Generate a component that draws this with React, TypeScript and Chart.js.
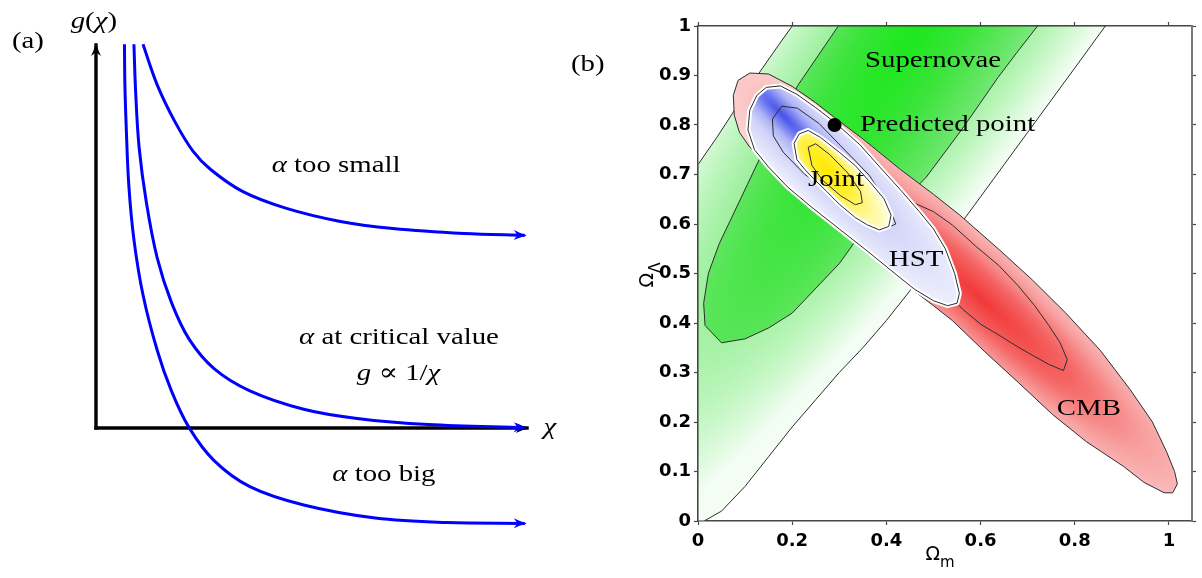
import React, { useEffect, useRef } from 'react';
import { Chart, registerables } from 'chart.js';

Chart.register(...registerables);

// ---------------- Panel (a): abstract chi / g units ----------------
const chiAxis = [0, 10];
const gAxis = [0, 10];
const smallChi = [1.09, 1.42, 1.83, 2.25, 2.66, 3.41, 4.4, 5.64, 6.89, 8.54, 9.95];
const smallG = [10.02, 8.96, 8.0, 7.23, 6.75, 6.17, 5.74, 5.4, 5.21, 5.08, 5.03];
const critChi = [0.88, 0.92, 1.0, 1.17, 1.42, 1.75, 2.16, 2.74, 3.57, 4.82, 6.06, 7.71, 9.95];
const critG = [10.02, 8.77, 7.33, 5.88, 4.44, 3.28, 2.32, 1.55, 0.97, 0.49, 0.25, 0.09, 0.01];
const bigChi = [0.66, 0.67, 0.7, 0.76, 0.88, 1.09, 1.42, 1.75, 2.16, 2.74, 3.57, 4.82, 6.48, 8.14, 9.95];
const bigG = [10.02, 9.0, 7.9, 6.36, 4.92, 3.48, 2.03, 0.97, 0.01, -0.85, -1.53, -2.01, -2.35, -2.47, -2.49];

// ---------------- Panel (b): Omega_m / Omega_Lambda ----------------
const xTickLabels = ['0', '0.2', '0.4', '0.6', '0.8', '1'];
const yTickLabels = ['0', '0.1', '0.2', '0.3', '0.4', '0.5', '0.6', '0.7', '0.8', '0.9', '1'];

const snOuter = [
  [0, 0.72], [0.04, 0.775], [0.081, 0.835], [0.134, 0.911], [0.17, 0.96], [0.2, 1.0],
  [0.865, 1.0], [0.8, 0.915], [0.75, 0.85], [0.7, 0.785], [0.65, 0.72], [0.6, 0.655],
  [0.55, 0.59], [0.5, 0.525], [0.45, 0.465], [0.4, 0.405], [0.35, 0.35], [0.3, 0.3],
  [0.25, 0.245], [0.2, 0.19], [0.15, 0.13], [0.1, 0.07], [0.05, 0.02], [0.013, 0],
  [0, 0], [0, 0.72],
];
const snInner = [
  [0.298, 1.0], [0.255, 0.94], [0.212, 0.88], [0.175, 0.815], [0.14, 0.75], [0.105, 0.68],
  [0.075, 0.62], [0.045, 0.56], [0.022, 0.5], [0.012, 0.44], [0.015, 0.395], [0.05, 0.36],
  [0.1, 0.368], [0.15, 0.39], [0.2, 0.42], [0.26, 0.48], [0.3, 0.52], [0.33, 0.56],
  [0.38, 0.6], [0.424, 0.636], [0.485, 0.695], [0.561, 0.792], [0.599, 0.844],
  [0.637, 0.896], [0.68, 0.95], [0.721, 1.0], [0.298, 1.0],
];
const cmbOuter = [
  [0.075, 0.86], [0.085, 0.89], [0.11, 0.905], [0.15, 0.903], [0.2, 0.878], [0.25, 0.845],
  [0.29, 0.815], [0.35, 0.772], [0.43, 0.71], [0.5, 0.66], [0.556, 0.618], [0.641, 0.547],
  [0.71, 0.487], [0.781, 0.42], [0.854, 0.345], [0.918, 0.265], [0.965, 0.2], [0.995, 0.14],
  [1.012, 0.1], [1.018, 0.075], [1.008, 0.057], [0.99, 0.057], [0.947, 0.078], [0.904, 0.11],
  [0.825, 0.16], [0.753, 0.215], [0.68, 0.28], [0.609, 0.342], [0.54, 0.405], [0.5, 0.435],
  [0.445, 0.475], [0.4, 0.51], [0.35, 0.55], [0.3, 0.59], [0.25, 0.635], [0.2, 0.675],
  [0.15, 0.72], [0.11, 0.755], [0.088, 0.785], [0.077, 0.82], [0.075, 0.86],
];
const cmbInner = [
  [0.448, 0.647], [0.5, 0.625], [0.54, 0.598], [0.59, 0.555], [0.639, 0.516], [0.68, 0.475],
  [0.715, 0.435], [0.745, 0.395], [0.769, 0.36], [0.784, 0.326], [0.776, 0.304], [0.746, 0.316],
  [0.71, 0.335], [0.677, 0.353], [0.64, 0.375], [0.601, 0.397], [0.563, 0.427], [0.53, 0.46],
  [0.5, 0.5], [0.47, 0.56], [0.45, 0.61], [0.448, 0.647],
];
const hstOuter = [
  [0.11, 0.83], [0.125, 0.86], [0.145, 0.876], [0.175, 0.879], [0.21, 0.862], [0.25, 0.835],
  [0.291, 0.805], [0.344, 0.76], [0.386, 0.715], [0.429, 0.67], [0.47, 0.625], [0.5, 0.59],
  [0.525, 0.55], [0.545, 0.5], [0.555, 0.46], [0.55, 0.44], [0.53, 0.435], [0.5, 0.445],
  [0.46, 0.468], [0.418, 0.5], [0.36, 0.545], [0.3, 0.59], [0.24, 0.635], [0.19, 0.675],
  [0.15, 0.715], [0.12, 0.75], [0.106, 0.79], [0.11, 0.83],
];
const hstInner = [
  [0.158, 0.812], [0.178, 0.838], [0.211, 0.834], [0.257, 0.803], [0.303, 0.758], [0.364, 0.698],
  [0.404, 0.638], [0.42, 0.6], [0.397, 0.59], [0.349, 0.618], [0.288, 0.662], [0.227, 0.7],
  [0.181, 0.745], [0.16, 0.778], [0.158, 0.812],
];
const jointOuter = [
  [0.204, 0.763], [0.215, 0.782], [0.234, 0.789], [0.26, 0.775], [0.3, 0.745], [0.334, 0.718],
  [0.365, 0.685], [0.395, 0.651], [0.41, 0.618], [0.405, 0.595], [0.385, 0.588], [0.36, 0.598],
  [0.334, 0.613], [0.3, 0.64], [0.273, 0.666], [0.245, 0.692], [0.227, 0.71], [0.21, 0.73],
  [0.204, 0.763],
];
const jointInner = [
  [0.234, 0.755], [0.25, 0.762], [0.28, 0.74], [0.318, 0.703], [0.345, 0.666], [0.349, 0.643],
  [0.334, 0.639], [0.303, 0.657], [0.265, 0.688], [0.242, 0.718], [0.234, 0.755],
];
const predictedPoint = [0.29, 0.8];

// ---------------- styles ----------------
const SERIF = '"Liberation Serif", "DejaVu Serif", serif';
const SANS = '"DejaVu Sans", sans-serif';
const TEXT_SIZE = 24;
const TEXT_STRETCH = 1.2;

const fillStyles: any = {
  snOuter: { center: [0.53, 1.05], angle: 126, rx: 700, ry: 140,
    stops: [[0, 'rgb(85,228,85)'], [0.45, 'rgb(140,237,140)'], [0.75, 'rgb(192,246,192)'], [1, 'rgb(243,253,243)']] },
  snInner: { center: [0.5, 1.05], angle: 122, rx: 650, ry: 115,
    stops: [[0, 'rgb(25,232,25)'], [0.4, 'rgb(60,228,60)'], [0.75, 'rgb(105,230,105)'], [1, 'rgb(140,235,140)']] },
  cmb: { center: [0.6, 0.45], angle: 42.5, rx: 400, ry: 72,
    stops: [[0, 'rgb(242,55,55)'], [0.3, 'rgb(245,100,100)'], [0.55, 'rgb(248,160,160)'], [0.8, 'rgb(251,200,200)'], [1, 'rgb(253,222,222)']] },
  hst: { center: [0.18, 0.82], angle: 46, rx: 280, ry: 48, halo: 5,
    stops: [[0, 'rgb(70,80,235)'], [0.12, 'rgb(110,120,240)'], [0.3, 'rgb(175,180,246)'], [0.5, 'rgb(208,210,249)'], [0.8, 'rgb(228,230,251)'], [1, 'rgb(242,242,253)']] },
  joint: { center: [0.275, 0.71], angle: 48, rx: 95, ry: 30, halo: 5,
    stops: [[0, 'rgb(255,232,0)'], [0.3, 'rgb(255,238,40)'], [0.6, 'rgb(255,247,140)'], [0.85, 'rgb(255,252,200)'], [1, 'rgb(255,255,225)']] },
};

type Seg = { t: string; it?: boolean; sub?: boolean };

const leftLabels: { at: number[]; segs: Seg[] }[] = [
  { at: [5.57, 6.84], segs: [{ t: 'α', it: true }, { t: ' too small' }] },
  { at: [7.03, 2.35], segs: [{ t: 'α', it: true }, { t: ' at critical value' }] },
  { at: [7.02, 1.41], segs: [{ t: 'g', it: true }, { t: ' ∝ 1/' }, { t: 'χ', it: true }] },
  { at: [6.68, -1.23], segs: [{ t: 'α', it: true }, { t: ' too big' }] },
  { at: [10.53, 0], segs: [{ t: 'χ', it: true }] },
  { at: [-0.05, 10.6], segs: [{ t: 'g', it: true }, { t: '(' }, { t: 'χ', it: true }, { t: ')' }] },
  { at: [-1.58, 10.08], segs: [{ t: '(a)' }] },
];
const rightLabels: { at: number[]; segs: Seg[] }[] = [
  { at: [0.499, 0.929], segs: [{ t: 'Supernovae' }] },
  { at: [0.53, 0.8], segs: [{ t: 'Predicted point' }] },
  { at: [0.293, 0.689], segs: [{ t: 'Joint' }] },
  { at: [0.463, 0.527], segs: [{ t: 'HST' }] },
  { at: [0.83, 0.226], segs: [{ t: 'CMB' }] },
  { at: [-0.234, 0.921], segs: [{ t: '(b)' }] },
];

function drawRich(ctx: any, segs: Seg[], x: number, y: number, size: number, family: string, stretch = 1, weight = 'normal') {
  ctx.save();
  ctx.textBaseline = 'middle';
  ctx.textAlign = 'left';
  ctx.fillStyle = '#000';
  const fontOf = (s: Seg) => `${s.it ? 'italic ' : ''}${weight} ${s.sub ? Math.round(size * 0.8) : size}px ${family}`;
  let total = 0;
  const widths = segs.map((s) => {
    ctx.font = fontOf(s);
    const w = ctx.measureText(s.t).width * stretch;
    total += w;
    return w;
  });
  let cx = x - total / 2;
  segs.forEach((s, i) => {
    ctx.font = fontOf(s);
    ctx.save();
    ctx.translate(cx, y + (s.sub ? size * 0.45 : 0));
    ctx.scale(stretch, 1);
    ctx.fillText(s.t, 0, 0);
    ctx.restore();
    cx += widths[i];
  });
  ctx.restore();
}

function drawArrow(ctx: any, from: any, tip: any, color: string, len: number, half: number) {
  const dx = tip.x - from.x;
  const dy = tip.y - from.y;
  const L = Math.hypot(dx, dy) || 1;
  const ux = dx / L, uy = dy / L;
  const nx = -uy, ny = ux;
  const tx = tip.x + ux * 2, ty = tip.y + uy * 2;
  const bx = tx - ux * len, by = ty - uy * len;
  ctx.save();
  ctx.beginPath();
  ctx.moveTo(tx, ty);
  ctx.quadraticCurveTo(tx - ux * len * 0.5 + nx * half * 0.35, ty - uy * len * 0.5 + ny * half * 0.35, bx + nx * half, by + ny * half);
  ctx.lineTo(tx - ux * len * 0.72, ty - uy * len * 0.72);
  ctx.lineTo(bx - nx * half, by - ny * half);
  ctx.quadraticCurveTo(tx - ux * len * 0.5 - nx * half * 0.35, ty - uy * len * 0.5 - ny * half * 0.35, tx, ty);
  ctx.closePath();
  ctx.fillStyle = color;
  ctx.fill();
  ctx.restore();
}

const arrowPlugin = {
  id: 'arrowHeads',
  afterDatasetsDraw(chart: any) {
    chart.data.datasets.forEach((ds: any, i: number) => {
      if (!ds.arrow) return;
      const pts = chart.getDatasetMeta(i).data;
      const n = pts.length;
      drawArrow(chart.ctx, pts[n - 2], pts[n - 1], ds.arrow, 13, 5);
    });
  },
};

function labelPlugin(labels: { at: number[]; segs: Seg[] }[]) {
  return {
    id: 'textLabels',
    afterDatasetsDraw(chart: any) {
      const xs = chart.scales.x, ys = chart.scales.y;
      labels.forEach((l) => {
        drawRich(chart.ctx, l.segs, xs.getPixelForValue(l.at[0]), ys.getPixelForValue(l.at[1]), TEXT_SIZE, SERIF, TEXT_STRETCH);
      });
    },
  };
}

const axisTitlePlugin = {
  id: 'axisTitles',
  afterDraw(chart: any) {
    const ctx = chart.ctx;
    const xs = chart.scales.x, ys = chart.scales.y;
    drawRich(ctx, [{ t: 'Ω' }, { t: 'm', sub: true }], xs.getPixelForValue(0.514), chart.chartArea.bottom + 34, 19, SANS, 1);
    ctx.save();
    ctx.translate(chart.chartArea.left - 50, ys.getPixelForValue(0.497));
    ctx.rotate(-Math.PI / 2);
    drawRich(ctx, [{ t: 'Ω' }, { t: 'Λ', sub: true }], 0, 0, 19, SANS, 1);
    ctx.restore();
  },
};

const contourFillPlugin = {
  id: 'contourFill',
  beforeDatasetDraw(chart: any, args: any) {
    const ds: any = chart.data.datasets[args.index];
    const spec = ds.fillSpec ? fillStyles[ds.fillSpec] : null;
    if (!spec) return;
    const pts = args.meta.data;
    const ctx = chart.ctx;
    const { left, right, top, bottom } = chart.chartArea;
    const xs = chart.scales.x, ys = chart.scales.y;
    ctx.save();
    ctx.beginPath();
    ctx.rect(left, top, right - left, bottom - top);
    ctx.clip();
    ctx.beginPath();
    pts.forEach((p: any, i: number) => (i ? ctx.lineTo(p.x, p.y) : ctx.moveTo(p.x, p.y)));
    ctx.closePath();
    ctx.save();
    ctx.clip();
    const cx = xs.getPixelForValue(spec.center[0]);
    const cy = ys.getPixelForValue(spec.center[1]);
    ctx.translate(cx, cy);
    ctx.rotate((spec.angle * Math.PI) / 180);
    ctx.scale(1, spec.ry / spec.rx);
    const g = ctx.createRadialGradient(0, 0, 0, 0, 0, spec.rx);
    spec.stops.forEach((s: any) => g.addColorStop(s[0], s[1]));
    ctx.fillStyle = g;
    ctx.fillRect(-4000, -40000, 8000, 80000);
    ctx.restore();
    if (spec.halo) {
      ctx.strokeStyle = '#ffffff';
      ctx.lineWidth = spec.halo;
      ctx.lineJoin = 'round';
      ctx.stroke();
    }
    ctx.restore();
  },
};

const toPts = (xs: number[], ys: number[]) => xs.map((x, i) => ({ x, y: ys[i] }));
const toPoly = (arr: number[][]) => arr.map((p) => ({ x: p[0], y: p[1] }));

function leftConfig(): any {
  const axisStyle = { showLine: true, borderColor: '#000', borderWidth: 3.4, pointRadius: 0, borderCapStyle: 'square', arrow: '#000' };
  const curveStyle = { showLine: true, borderColor: '#0000ff', borderWidth: 3, pointRadius: 0, tension: 0.35, arrow: '#0000ff' };
  const list: any[] = [
    { data: [{ x: 0, y: gAxis[0] }, { x: 0, y: gAxis[1] }], ...axisStyle },
    { data: [{ x: chiAxis[0], y: 0 }, { x: chiAxis[1], y: 0 }], ...axisStyle },
    { data: toPts(bigChi, bigG), ...curveStyle },
    { data: toPts(critChi, critG), ...curveStyle },
    { data: toPts(smallChi, smallG), ...curveStyle },
  ];
  list.forEach((d, i) => (d.order = list.length - i));
  return {
    type: 'scatter',
    data: { datasets: list },
    options: {
      responsive: true,
      maintainAspectRatio: false,
      animation: false,
      events: [],
      layout: { padding: 0 },
      plugins: { legend: { display: false }, tooltip: { enabled: false } },
      scales: {
        x: { type: 'linear', display: false, min: -2.2274, max: 10.766 },
        y: { type: 'linear', display: false, min: -3.916, max: 11.175 },
      },
    },
    plugins: [arrowPlugin, labelPlugin(leftLabels)],
  };
}

function rightConfig(): any {
  const lineStyle = { showLine: true, borderColor: 'rgb(45,45,45)', borderWidth: 1, pointRadius: 0, fill: false };
  const list: any[] = [
    { data: toPoly(snOuter), ...lineStyle, fillSpec: 'snOuter' },
    { data: toPoly(snInner), ...lineStyle, fillSpec: 'snInner' },
    { data: toPoly(cmbOuter), ...lineStyle, fillSpec: 'cmb' },
    { data: toPoly(cmbInner), ...lineStyle },
    { data: toPoly(hstOuter), ...lineStyle, fillSpec: 'hst' },
    { data: toPoly(hstInner), ...lineStyle },
    { data: toPoly(jointOuter), ...lineStyle, fillSpec: 'joint' },
    { data: toPoly(jointInner), ...lineStyle },
    { data: [{ x: predictedPoint[0], y: predictedPoint[1] }], showLine: false, pointRadius: 7, pointBackgroundColor: '#000', pointBorderWidth: 0 },
  ];
  list.forEach((d, i) => (d.order = list.length - i));
  const tickFont = { family: SANS, weight: 'bold', size: 18 };
  const frame = { color: 'rgb(70,70,70)', width: 1.5 };
  const grid = { drawOnChartArea: false, tickLength: 4, tickColor: 'rgb(70,70,70)', tickWidth: 1.2 };
  return {
    type: 'scatter',
    data: { datasets: list },
    options: {
      responsive: true,
      maintainAspectRatio: false,
      animation: false,
      events: [],
      layout: { padding: 0 },
      plugins: { legend: { display: false }, tooltip: { enabled: false } },
      scales: {
        x: {
          type: 'linear', position: 'bottom', min: 0, max: 1.049,
          ticks: { stepSize: 0.2, includeBounds: false, font: tickFont, color: '#000', padding: 6, maxRotation: 0, autoSkip: false,
            callback: (v: any) => xTickLabels[Math.round(Number(v) / 0.2)] },
          grid, border: frame,
          afterFit: (s: any) => { s.height = 57; },
        },
        x2: {
          type: 'linear', position: 'top', min: 0, max: 1.049,
          ticks: { stepSize: 0.2, includeBounds: false, display: false },
          grid, border: frame,
          afterFit: (s: any) => { s.height = 26; },
        },
        y: {
          type: 'linear', position: 'left', min: 0, max: 1,
          ticks: { stepSize: 0.1, font: tickFont, color: '#000', padding: 3, autoSkip: false,
            callback: (v: any) => yTickLabels[Math.round(Number(v) * 10)] },
          grid, border: frame,
          afterFit: (s: any) => { s.width = 138; },
        },
        y2: {
          type: 'linear', position: 'right', min: 0, max: 1,
          ticks: { stepSize: 0.1, display: false },
          grid, border: { color: 'rgb(120,120,120)', width: 2 },
          afterFit: (s: any) => { s.width = 10; },
        },
      },
    },
    plugins: [contourFillPlugin, labelPlugin(rightLabels), axisTitlePlugin],
  };
}

export default function App() {
  const leftRef = useRef<HTMLCanvasElement>(null);
  const rightRef = useRef<HTMLCanvasElement>(null);
  useEffect(() => {
    const left = new Chart(leftRef.current as HTMLCanvasElement, leftConfig());
    const right = new Chart(rightRef.current as HTMLCanvasElement, rightConfig());
    return () => {
      left.destroy();
      right.destroy();
    };
  }, []);
  return (
    <div style={{ position: 'fixed', left: 0, top: 0, width: 1202, height: 578, background: '#fff' }}>
      <div style={{ position: 'absolute', left: 0, top: 0, width: 560, height: 578 }}>
        <canvas ref={leftRef} />
      </div>
      <div style={{ position: 'absolute', left: 560, top: 0, width: 642, height: 578 }}>
        <canvas ref={rightRef} />
      </div>
    </div>
  );
}
